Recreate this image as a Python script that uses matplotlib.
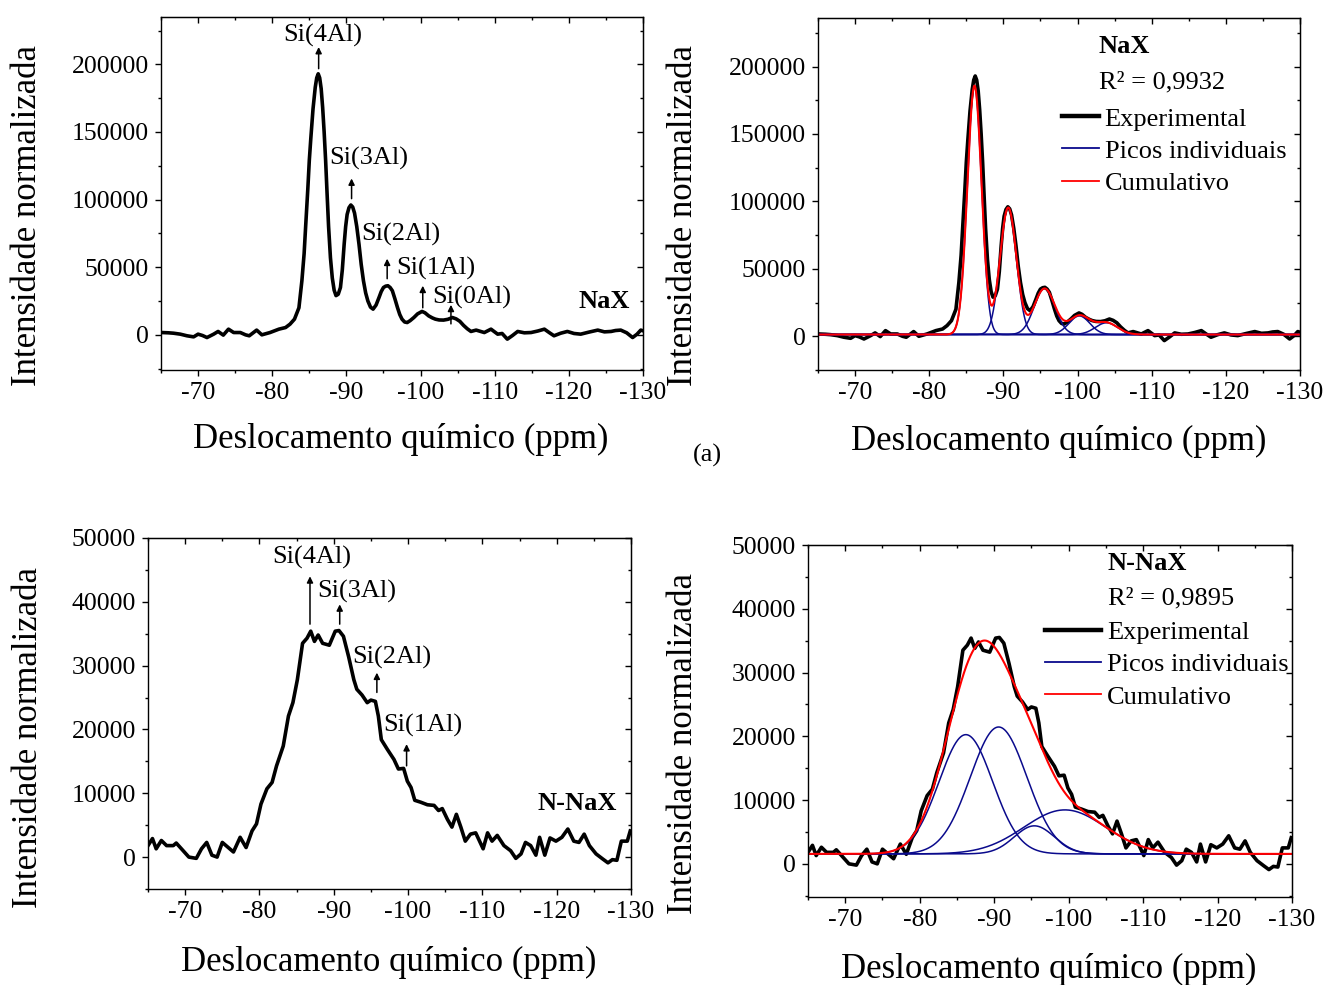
import matplotlib
matplotlib.use("Agg")
import matplotlib.pyplot as plt
import numpy as np
from matplotlib.ticker import MultipleLocator
from matplotlib.lines import Line2D

plt.rcParams['font.family'] = ['Liberation Serif', 'DejaVu Serif']
plt.rcParams['axes.unicode_minus'] = False

# ---------------- data ----------------
# NaX experimental 29Si spectrum (ppm, intensity)
nax_shift = [-65.1, -66.0, -66.7, -67.6, -68.5, -69.4, -70.0, -70.6, -71.2, -72.1,
             -72.7, -73.4, -74.1, -74.8, -75.7, -76.4, -76.9, -77.9, -78.6, -79.7,
             -80.9, -81.8, -82.4, -83.0, -83.6, -84.0, -84.3, -84.5, -84.8, -85.0,
             -85.2, -85.5, -85.8, -86.0, -86.2, -86.4, -86.6, -86.8, -87.0, -87.2,
             -87.4, -87.6, -87.85, -88.1, -88.35, -88.6, -88.9, -89.2, -89.45, -89.7,
             -89.9, -90.1, -90.35, -90.6, -90.85, -91.1, -91.4, -91.7, -92.0, -92.3,
             -92.6, -92.9, -93.25, -93.6, -94.0, -94.4, -94.7, -95.0, -95.3, -95.6,
             -95.9, -96.2, -96.55, -96.9, -97.2, -97.5, -97.85, -98.2, -98.6, -99.1,
             -99.6, -100.2, -100.6, -101.1, -101.6, -102.0, -102.5, -103.1, -103.7, -104.3,
             -104.8, -105.3, -105.8, -106.3, -106.8, -107.5, -108.6, -109.5, -110.4, -111.0,
             -111.7, -112.4, -113.1, -114.0, -114.9, -115.8, -116.7, -117.4, -118.0, -118.9,
             -119.8, -120.7, -121.6, -122.7, -123.9, -124.8, -125.7, -126.3, -127.0, -127.8,
             -128.6, -129.2, -129.7, -130.0]
nax_int = [1700, 1500, 1200, 500, -700, -1500, 500, -500, -2000, 500,
           2500, -200, 4200, 1700, 1700, 0, -700, 3500, 0, 1700,
           4200, 5400, 7900, 11600, 20000, 40000, 60000, 79500, 108000, 129000,
           145000, 167000, 183000, 190000, 193000, 190000, 182000, 168000, 150000, 129000,
           104000, 80000, 57000, 42000, 33000, 29000, 30000, 35000, 48000, 67000,
           80000, 89000, 94000, 96000, 94500, 90000, 80000, 67000, 52000, 40000,
           31000, 25000, 20500, 19000, 22000, 27600, 32000, 35000, 36000, 36300,
           35000, 32600, 26500, 20000, 15000, 11600, 9500, 9100, 10500, 12800,
           15500, 17300, 16300, 14000, 12500, 11600, 11000, 10900, 11500, 12800,
           11800, 10000, 7000, 4500, 2500, 3500, 1700, 4200, 500, 1000,
           -3200, -500, 2500, 1500, 1700, 2800, 4200, 1500, -700, 1200,
           2500, 1000, 500, 2000, 3500, 2200, 2500, 3200, 3500, 1500,
           -2000, 500, 3500, 3000]

# N-NaX experimental 29Si spectrum (ppm, intensity)
nnax_shift = [-65.0, -65.6, -66.1, -66.8, -67.5, -68.4, -68.8, -69.5, -70.5, -71.5,
              -72.2, -72.9, -73.6, -74.3, -75.0, -75.8, -76.5, -77.4, -78.2, -79.0,
              -79.6, -80.2, -81.0, -81.7, -82.3, -83.2, -83.9, -84.5, -85.1, -85.8,
              -86.4, -86.9, -87.4, -87.9, -88.5, -89.4, -90.2, -90.7, -91.3, -92.0,
              -92.7, -93.1, -93.8, -94.5, -95.0, -95.6, -96.0, -96.4, -97.2, -98.1,
              -98.7, -99.4, -99.9, -100.4, -100.9, -101.7, -102.6, -103.5, -104.1, -104.6,
              -105.3, -105.9, -106.5, -107.1, -107.7, -108.4, -109.1, -109.5, -110.1, -110.7,
              -111.3, -112.0, -112.9, -113.8, -114.5, -115.2, -115.8, -116.5, -117.2, -117.7,
              -118.4, -119.1, -119.9, -120.7, -121.5, -122.3, -123.0, -123.7, -124.4, -125.3,
              -126.2, -126.9, -127.5, -128.1, -128.7, -129.5, -129.9]
nnax_int = [1800, 2900, 1300, 2600, 1800, 1800, 2200, 1300, 0, -200,
            1300, 2300, 300, 0, 2300, 1500, 800, 3100, 1500, 4100,
            5200, 8300, 10700, 11700, 14300, 17400, 22100, 24200, 27800, 33500,
            34300, 35400, 33800, 34800, 33500, 33200, 35400, 35500, 34600, 31400,
            27800, 26300, 25400, 24200, 24600, 24400, 22100, 18400, 16900, 15300,
            13800, 13900, 11900, 10900, 8900, 8600, 8200, 8100, 7300, 7600,
            5900, 4700, 6700, 4700, 2500, 3600, 3800, 2800, 1300, 3800,
            2500, 3400, 1800, 1000, -200, 500, 2300, 1800, 300, 3100,
            300, 3000, 2500, 3100, 4400, 2500, 2300, 3600, 1800, 500,
            -300, -900, -400, -500, 2500, 2500, 4100]

# Fitted Gaussian components (center ppm, height, sigma ppm) + baseline
nax_centers = [-86.1, -90.65, -95.55, -100.25, -103.9]
nax_heights = [184500, 94100, 34100, 13800, 8700]
nax_sigmas = [0.95, 1.1, 1.4, 1.4, 1.5]
nax_base = 1300

nnax_centers = [-86.2, -90.6, -95.4, -99.5]
nnax_heights = [18700, 19900, 4400, 6900]
nnax_sigmas = [3.6, 3.8, 2.7, 5.5]
nnax_base = 1560

peak_labels_nax = ['Si(4Al)', 'Si(3Al)', 'Si(2Al)', 'Si(1Al)', 'Si(0Al)']
peak_labels_nnax = ['Si(4Al)', 'Si(3Al)', 'Si(2Al)', 'Si(1Al)']
legend_labels = ['Experimental', 'Picos individuais', 'Cumulativo']
r2_nax = 'R² = 0,9932'
r2_nnax = 'R² = 0,9895'
xlabel = 'Deslocamento químico (ppm)'
ylabel = 'Intensidade normalizada'

# ---------------- figure ----------------
W, H = 1326, 985
fig = plt.figure(figsize=(W / 100, H / 100), dpi=100)

FS = 19      # annotation / legend text
TFS = 18.5   # tick labels
LFS = 25     # axis labels


def rect(l, t, r, b):
    return [l / W, 1 - b / H, (r - l) / W, (b - t) / H]


ax_tl = fig.add_axes(rect(161, 17, 643, 370))
ax_tr = fig.add_axes(rect(818, 18, 1300, 370))
ax_bl = fig.add_axes(rect(148, 538, 631, 889))
ax_br = fig.add_axes(rect(808, 545, 1292, 897))

EXP_KW = dict(color='black', lw=2.6, solid_joinstyle='round')
BLUE = '#0a0a8c'
RED = '#ff0000'


def style(ax, ylim, ymaj, ymin, xl_pos, yl_pos):
    ax.set_xlim(-65, -130)
    ax.set_ylim(*ylim)
    ax.xaxis.set_major_locator(MultipleLocator(10))
    ax.xaxis.set_minor_locator(MultipleLocator(5))
    ax.yaxis.set_major_locator(MultipleLocator(ymaj))
    ax.yaxis.set_minor_locator(MultipleLocator(ymin))
    ax.tick_params(which='both', direction='out', labelsize=TFS, width=1.0, colors='black')
    ax.tick_params(which='major', length=4.5, pad=4)
    ax.tick_params(which='minor', length=2.5)
    for s in ax.spines.values():
        s.set_linewidth(1.0)
    sx = ax.secondary_xaxis('top')
    sx.xaxis.set_major_locator(MultipleLocator(10))
    sx.xaxis.set_minor_locator(MultipleLocator(5))
    sx.tick_params(which='both', direction='in', labeltop=False, width=1.0)
    sx.tick_params(which='major', length=4.5)
    sx.tick_params(which='minor', length=2.5)
    sy = ax.secondary_yaxis('right')
    sy.yaxis.set_major_locator(MultipleLocator(ymaj))
    sy.yaxis.set_minor_locator(MultipleLocator(ymin))
    sy.tick_params(which='both', direction='in', labelright=False, width=1.0)
    sy.tick_params(which='major', length=4.5)
    sy.tick_params(which='minor', length=2.5)
    ax.set_xlabel(xlabel, fontsize=LFS)
    ax.set_ylabel(ylabel, fontsize=LFS)
    ax.xaxis.set_label_coords(*xl_pos)
    ax.yaxis.set_label_coords(*yl_pos)
    ax.xaxis.label.set_verticalalignment('center')
    ax.yaxis.label.set_verticalalignment('center')


def arrow(ax, x, y0, y1):
    ax.annotate('', xy=(x, y1), xytext=(x, y0),
                arrowprops=dict(arrowstyle='-|>', color='black', lw=1.1,
                                mutation_scale=9, shrinkA=0, shrinkB=0))


xfit = np.linspace(-65, -130, 1301)


def components(centers, heights, sigmas, base):
    comps = [base + h * np.exp(-(xfit - c) ** 2 / (2 * s ** 2))
             for c, h, s in zip(centers, heights, sigmas)]
    cum = base + sum(c - base for c in comps)
    return comps, cum


def legend(ax, anchor, hlen):
    handles = [Line2D([], [], color='black', lw=3.2), Line2D([], [], color=BLUE, lw=1.3),
               Line2D([], [], color=RED, lw=1.3)]
    ax.legend(handles, legend_labels, loc='upper left', bbox_to_anchor=anchor,
              frameon=False, fontsize=FS, handlelength=hlen, handletextpad=0.22,
              labelspacing=0.33, borderpad=0, borderaxespad=0)


# ---- top-left: NaX with assignments ----
ax = ax_tl
ax.plot(nax_shift, nax_int, **EXP_KW)
style(ax, (-26000, 235000), 50000, 25000, (0.498, -0.198), (-0.276, 0.439))
lab_pos = [(-86.8, 221500), (-93.0, 130400), (-97.3, 74100), (-102.0, 48900), (-106.9, 27400)]
arr_pos = [(-86.26, 196800, 212800), (-90.7, 100700, 115600), (-95.5, 41500, 56300),
           (-100.3, 20000, 36300), (-104.1, 8100, 22200)]
for lab, (tx, ty), (axx, a0, a1) in zip(peak_labels_nax, lab_pos, arr_pos):
    ax.text(tx, ty, lab, fontsize=FS, ha='center', va='center')
    arrow(ax, axx, a0, a1)
ax.text(0.919, 0.195, 'NaX', transform=ax.transAxes, fontsize=FS, fontweight='bold',
        ha='center', va='center')

# ---- top-right: NaX deconvolution ----
ax = ax_tr
ax.plot(nax_shift, nax_int, **EXP_KW)
comps, cum = components(nax_centers, nax_heights, nax_sigmas, nax_base)
for c in comps:
    ax.plot(xfit, c, color=BLUE, lw=1.1)
ax.plot(xfit, cum, color=RED, lw=1.5)
style(ax, (-25000, 236000), 50000, 25000, (0.5, -0.202), (-0.28, 0.44))
ax.text(0.636, 0.918, 'NaX', transform=ax.transAxes, fontsize=FS, fontweight='bold',
        ha='center', va='center')
ax.text(0.583, 0.818, r2_nax, transform=ax.transAxes, fontsize=FS, ha='left', va='center')
legend(ax, (0.506, 0.747), 1.4)

# ---- bottom-left: N-NaX with assignments ----
ax = ax_bl
ax.plot(nnax_shift, nnax_int, **EXP_KW)
style(ax, (-5000, 50000), 10000, 5000, (0.499, -0.208), (-0.248, 0.433))
lab_pos_b = [(-87.0, 46900), (-93.1, 41700), (-97.8, 31300), (-102.0, 20600)]
arr_pos_b = [(-86.8, 36500, 44000), (-90.8, 36500, 39600), (-95.8, 25800, 28900),
             (-99.8, 14300, 17700)]
for lab, (tx, ty), (axx, a0, a1) in zip(peak_labels_nnax, lab_pos_b, arr_pos_b):
    ax.text(tx, ty, lab, fontsize=FS, ha='center', va='center')
    arrow(ax, axx, a0, a1)
ax.text(0.888, 0.245, 'N-NaX', transform=ax.transAxes, fontsize=FS, fontweight='bold',
        ha='center', va='center')

# ---- bottom-right: N-NaX deconvolution ----
ax = ax_br
ax.plot(nnax_shift, nnax_int, **EXP_KW)
comps, cum = components(nnax_centers, nnax_heights, nnax_sigmas, nnax_base)
for c in comps:
    ax.plot(xfit, c, color=BLUE, lw=1.1)
ax.plot(xfit, cum, color=RED, lw=1.5)
style(ax, (-5200, 50000), 10000, 5000, (0.498, -0.205), (-0.258, 0.4375))
ax.text(0.70, 0.947, 'N-NaX', transform=ax.transAxes, fontsize=FS, fontweight='bold',
        ha='center', va='center')
ax.text(0.62, 0.848, r2_nnax, transform=ax.transAxes, fontsize=FS, ha='left', va='center')
legend(ax, (0.49, 0.785), 2.12)

fig.text(707 / W, 1 - 455 / H, '(a)', fontsize=FS, ha='center', va='center')

fig.savefig('out.png', dpi=100)
